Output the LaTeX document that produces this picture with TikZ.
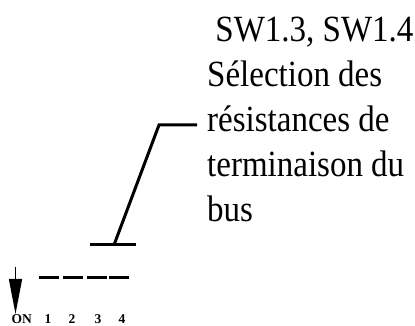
\documentclass[tikz,border=0pt]{standalone}
\usepackage{fontspec}
\setmainfont{Liberation Serif}
\usetikzlibrary{arrows.meta}

\begin{document}
\begin{tikzpicture}[x=1pt, y=1pt]
  \useasboundingbox (0,0) rectangle (415,326);
  \tikzset{lever/.style={line width=3pt},
    swlabel/.style={anchor=base, inner sep=0pt, font=\bfseries\fontsize{13.5}{13.5}\selectfont}}
  % direction ON
  \coordinate (ontop) at (15.5,59);
  \coordinate (ontip) at (15.5,12);
  \draw[line width=1.5pt, -{Triangle[length=35pt, width=13pt]}] (ontop) -- (ontip);
  \node[swlabel] (on) at (21.7,2) {ON};
  % the four switches
  \foreach \x/\lx [count=\i] in {39/48, 63/72, 87/98, 109/122} {
    \draw[lever] (\x,48) -- ++(20,0);
    \node[swlabel] (s\i) at (\lx,2) {\i};
  }
  % pointer to SW1.3 and SW1.4
  \node[anchor=north west, inner sep=0pt, align=left, yscale=1.12, transform shape,
        font=\fontsize{33}{40.2}\selectfont] (legend) at (207,309)
    {\ SW1.3, SW1.4\\S\'election des\\r\'esistances de\\terminaison du\\bus};
  \coordinate (tap) at (114,81);
  \coordinate (knee) at (159,201);
  \draw[line width=3pt] (90,81) -- (136,81);
  \draw[line width=3pt, shorten >=10pt] (tap) -- (knee) -- (knee -| legend.west);
\end{tikzpicture}
\end{document}
